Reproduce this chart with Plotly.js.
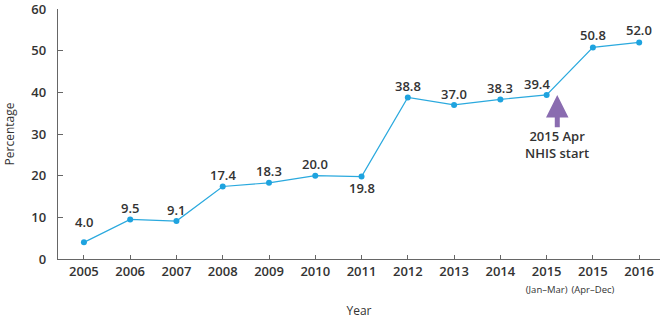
<!DOCTYPE html>
<html><head><meta charset="utf-8">
<script src="https://cdn.plot.ly/plotly-3.0.1.min.js"></script>
<style>html,body{margin:0;padding:0;background:#fff}</style>
</head><body><div id="c" style="width:664px;height:319px"></div>
<script>
var categories = ['2005','2006','2007','2008','2009','2010','2011','2012','2013','2014','2015a','2015b','2016'];
var tickLabels = ['2005','2006','2007','2008','2009','2010','2011','2012','2013','2014',
  '2015<br><span style="font-size:9.5px;font-weight:normal">(Jan–Mar)</span>',
  '2015<br><span style="font-size:9.5px;font-weight:normal">(Apr–Dec)</span>','2016'];
var values = [4.0,9.5,9.1,17.4,18.3,20.0,19.8,38.8,37.0,38.3,39.4,50.8,52.0];
var yTicks = [0,10,20,30,40,50,60];
var labelSide = [1,1,1,1,1,1,-1,1,1,1,1,1,1];
var labelShift = [20,11,11,12,12,12,11,11,11,11,11,12,12];
var labelXShift = [0,0,0,0,0,0,0,0,0,0,-10,0,0];

var xi = categories.map(function(_,i){return i;});
var txtColor = '#333333';
var W = 600;
var annotations = values.map(function(v,i){
  return {x:i, y:v, text:v.toFixed(1), showarrow:false, xref:'x', yref:'y',
    yshift: labelSide[i]*labelShift[i], xshift: labelXShift[i],
    font:{family:'Open Sans', size:13, color:txtColor, weight:W}};
});
annotations.push({x:10.23, y:39.4, xref:'x', yref:'y', ax:10.23, ay:31.3, axref:'x', ayref:'y',
  text:'', showarrow:true, arrowhead:2, arrowsize:0.9, arrowwidth:5, arrowcolor:'#8a6cb0', standoff:0});
annotations.push({x:10.23, y:27.4, xref:'x', yref:'y', showarrow:false,
  text:'2015 Apr<br>NHIS start', font:{family:'Open Sans', size:13, color:txtColor, weight:W}});

var trace = {x:xi, y:values, type:'scatter', mode:'lines+markers',
  line:{color:'#2aa9de', width:1.2}, marker:{color:'#1ea3df', size:6}, hoverinfo:'none', cliponaxis:false};

var layout = {
  width:664, height:319, margin:{l:58, r:4, t:9, b:60},
  paper_bgcolor:'#fff', plot_bgcolor:'#fff', showlegend:false,
  font:{family:'Open Sans', color:txtColor},
  xaxis:{range:[-0.56,12.45], tickvals:xi, ticktext:tickLabels, ticks:'inside', ticklen:4,
    tickcolor:'#666', showline:true, linecolor:'#666', linewidth:1.2, showgrid:false, zeroline:false,
    tickfont:{family:'Open Sans', size:13, color:txtColor, weight:W},
    title:{text:'Year', font:{family:'Open Sans', size:12, color:txtColor}, standoff:12}},
  yaxis:{range:[0,60.02], tickvals:yTicks, ticks:'inside', ticklen:5, tickcolor:'#666', showline:true,
    linecolor:'#666', linewidth:1.2, showgrid:false, zeroline:false, ticklabelstandoff:8,
    ticklabeloverflow:'allow',
    tickfont:{family:'Open Sans', size:13, color:txtColor, weight:W},
    title:{text:'Percentage', font:{family:'Open Sans', size:12, color:txtColor}, standoff:14}},
  annotations:annotations
};
Plotly.newPlot('c',[trace],layout,{displayModeBar:false, staticPlot:true});
</script></body></html>
